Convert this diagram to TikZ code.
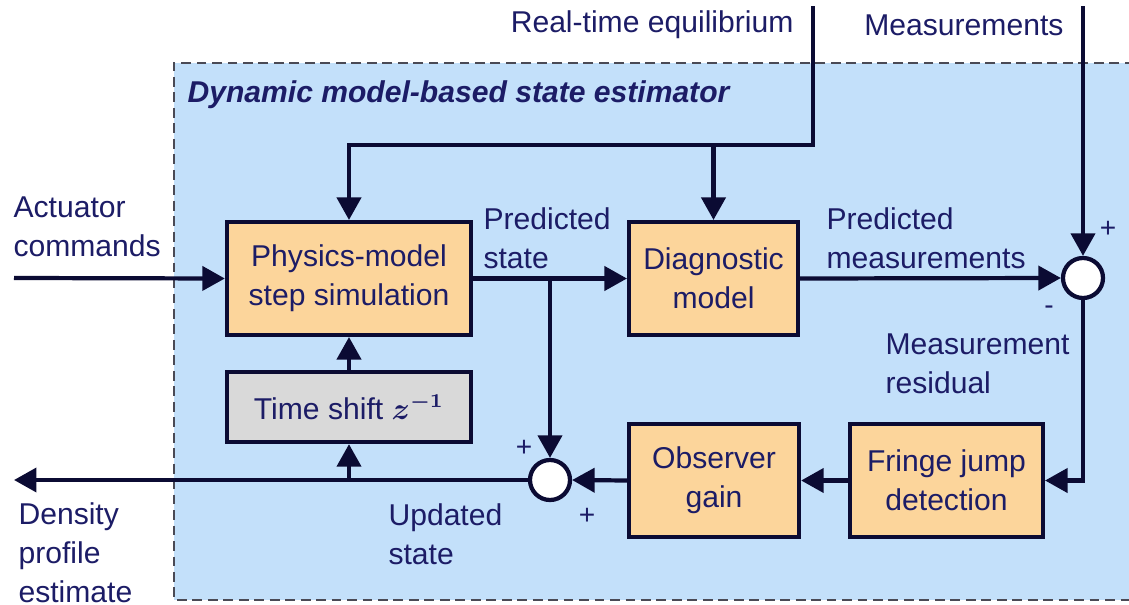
\documentclass[tikz,border=0pt]{standalone}
\usepackage{fontspec}
\usepackage{amsmath}
\setmainfont{Liberation Sans}
\usetikzlibrary{arrows.meta,positioning}
\definecolor{textnavy}{HTML}{1C1C66}
\definecolor{linenavy}{HTML}{0B0B33}
\definecolor{boxorange}{HTML}{FCD59B}
\definecolor{boxgray}{HTML}{D9D9D9}
\definecolor{framefill}{HTML}{C3E0FA}
\definecolor{framedash}{HTML}{4A4A55}

\begin{document}
\begin{tikzpicture}[
  x=0.0125cm, y=-0.0125cm,
  font=\fontsize{10.7}{13.8}\selectfont,
  every node/.style={align=center, text=textnavy},
  blockbox/.style={rectangle, draw=linenavy, line width=1.5pt, fill=boxorange,
                   minimum height=1.41cm, inner sep=2pt},
  shiftbox/.style={rectangle, draw=linenavy, line width=1.5pt, fill=boxgray,
                   minimum width=3.05cm, minimum height=0.875cm, inner sep=2pt},
  sumnode/.style={circle, draw=linenavy, line width=1.5pt, fill=white,
                  minimum size=0.5cm, inner sep=0pt},
  sidelab/.style={align=left, anchor=west, inner sep=0pt},
  signlab/.style={inner sep=0pt, font=\fontsize{10}{12}\selectfont},
  flow/.style={line width=1.5pt, draw=linenavy,
               -{Triangle[length=8pt,width=8.5pt]}},
  wire/.style={line width=1.5pt, draw=linenavy}
]
\useasboundingbox (0,0) rectangle (1129,605);
\clip (0,0) rectangle (1129,605);

% ---- Estimator frame ---------------------------------------------------------
\fill[framefill] (174,63) rectangle (1150,600);
\draw[framedash, line width=0.7pt, dash pattern=on 3.5pt off 2pt]
  (1150,63) -- (174,63) -- (174,600) -- (1150,600);

\node[anchor=west, inner sep=0pt, font=\fontsize{10.7}{13}\selectfont\bfseries\itshape]
  (frametitle) at (187,95) {Dynamic model-based state estimator};

% ---- Blocks ------------------------------------------------------------------
\node[blockbox, minimum width=3.05cm] (phys) at (349,278.5)
  {Physics-model\\step simulation};
\node[shiftbox] (tshift) at (349,407)
  {Time shift {\boldmath$z^{-1}$}};
\node[blockbox, minimum width=2.11cm] (diag) at (713.5,278.5)
  {Diagnostic\\model};
\node[blockbox, minimum width=2.125cm] (obsgain) at (714,480.5)
  {Observer\\gain};
\node[blockbox, minimum width=2.41cm] (fringe) at (946.5,480.5)
  {Fringe jump\\detection};

\node[sumnode] (sumr) at (1083,278) {};
\node[sumnode] (suml) at (550,480) {};

% ---- Outside inputs and output -------------------------------------------------
\node[anchor=east, inner sep=0pt] (rtlab) at (794,25) {Real-time equilibrium};
\node[anchor=east, inner sep=0pt] (measlab) at (1064,25) {Measurements};
\node[sidelab] (actlab) at (13,227) {Actuator\\commands};
\node[sidelab] (denslab) at (18,553) {Density\\profile\\estimate};

\coordinate (rttop) at (813,6);
\coordinate (rtbus) at (813,145);
\coordinate (meastop) at (1083,6);
\coordinate (actin) at (14,278);
\coordinate (densout) at (14,480);

% ---- Signal labels -------------------------------------------------------------
\node[sidelab] (predstate) at (483,238) {Predicted\\state};
\node[sidelab] (predmeas) at (826,238) {Predicted\\measurements};
\node[sidelab] (residlab) at (885,364) {Measurement\\residual};
\node[sidelab] (updstate) at (388,534) {Updated\\state};

\node[signlab] (rplus) at (1108,229) {+};
\node[signlab] (rminus) at (1049,310) {-};
\node[signlab] (lplus1) at (524,448) {+};
\node[signlab] (lplus2) at (587,516) {+};

% ---- Connectors ----------------------------------------------------------------
\draw[flow] (actin) -- (phys.west);
\draw[flow] (rttop) |- (phys.north |- rtbus) -- (phys.north);
\draw[flow] (diag.north |- rtbus) -- (diag.north);
\draw[flow] (phys.east) -- (diag.west);
\draw[flow] (diag.east) -- (sumr.west);
\draw[flow] (meastop) -- (sumr.north);
\draw[flow] (sumr.south) |- (fringe.east);
\draw[flow] (fringe.west) -- (obsgain.east);
\draw[flow] (obsgain.west) -- (suml.east);
\draw[flow] (suml.north |- phys.east) -- (suml.north);
\draw[flow] (suml.west) -- (densout);
\draw[flow] (tshift.south |- suml.west) -- (tshift.south);
\draw[flow] (tshift.north) -- (phys.south);

\end{tikzpicture}
\end{document}
